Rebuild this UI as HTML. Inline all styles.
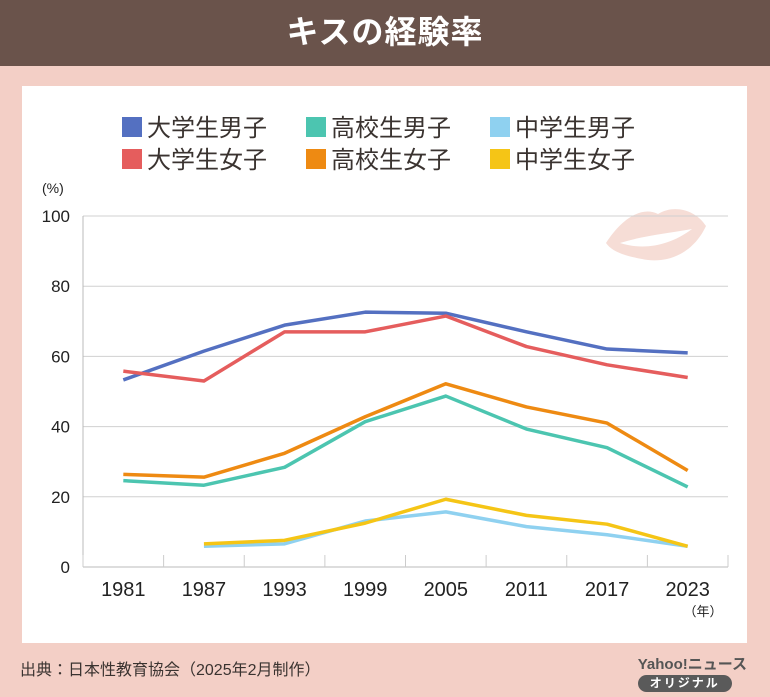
<!DOCTYPE html>
<html><head><meta charset="utf-8"><style>
body{margin:0;width:770px;height:697px;background:#f3cfc6;font-family:"Liberation Sans","Noto Sans CJK JP",sans-serif;position:relative;overflow:hidden}
#hdr{position:absolute;left:0;top:0;width:770px;height:66px;background:#6a534b;color:#fff;font-size:32px;font-weight:bold;text-align:center;line-height:64px;letter-spacing:1px}
#panel{position:absolute;left:22px;top:86px;width:725px;height:557px;background:#fff}
#src{position:absolute;left:20px;top:656px;font-size:16px;color:#3a3330}
#yl{position:absolute;right:23px;top:653px;text-align:center}
#yl .a{font-size:15px;font-weight:bold;color:#555}
#yl .b{margin-top:1px;background:#5a5a5a;color:#fff;font-size:12px;font-weight:bold;border-radius:9px;width:94px;height:17px;line-height:17px;letter-spacing:2px}
</style></head><body>
<div id="hdr">キスの経験率</div>
<div id="panel"></div>
<svg id="chart" width="770" height="697" style="position:absolute;left:0;top:0"></svg>
<div id="src">出典：日本性教育協会（2025年2月制作）</div>
<div id="yl"><div class="a">Yahoo!ニュース</div><div class="b">オリジナル</div></div>
<script>
const categories=["1981","1987","1993","1999","2005","2011","2017","2023"];
const yTicks=[0,20,40,60,80,100];
const univMale=[53.3,61.5,68.9,72.6,72.3,67,62.1,61];
const univFemale=[55.8,53,67,67,71.5,62.8,57.6,54];
const highMale=[24.6,23.3,28.4,41.4,48.7,39.3,34,22.8];
const highFemale=[26.4,25.6,32.4,42.8,52.2,45.6,41,27.5];
const juniorMale=[null,5.9,6.6,13.1,15.7,11.5,9.2,5.9];
const juniorFemale=[null,6.6,7.6,12.5,19.3,14.7,12.2,5.9];
const seriesNames=["大学生男子","高校生男子","中学生男子","大学生女子","高校生女子","中学生女子"];
const seriesColors=["#5470c1","#4cc5b0","#8fd1f0","#e55d5d","#ee8a12","#f5c516"];
const seriesData=[univMale,highMale,juniorMale,univFemale,highFemale,juniorFemale];
const NS="http://www.w3.org/2000/svg";
const svg=document.getElementById('chart');
const L=83,R=728,T=216,B=567;
const x=i=>L+(R-L)/categories.length*(i+0.5);
const y=v=>B-(B-T)*v/100;
function mk(t,a){const e=document.createElementNS(NS,t);for(const k in a)e.setAttribute(k,a[k]);svg.appendChild(e);return e;}
const lips=mk('path',{d:'M606 243 C622 218 642 206 658 214 C674 204 696 210 706 226 C692 256 664 264 642 259 C626 256 612 252 606 243 Z M620 243 C642 236 664 234 692 229 C668 247 642 250 620 243 Z',fill:'#f6ddd6','fill-rule':'evenodd'});


yTicks.forEach(v=>{
 const g=mk('line',{x1:L,x2:R,y1:y(v),y2:y(v),stroke:v===0?'#bbb':'#d0d0d0','stroke-width':1});
 
 
 const t=mk('text',{x:70,y:y(v)+6,'text-anchor':'end','font-size':17,fill:'#222'});t.textContent=v;
 
 
});
const ax=mk('line',{x1:L,x2:L,y1:T,y2:B,stroke:'#bbb'});


for(let i=0;i<=categories.length;i++){
 const xx=L+(R-L)/categories.length*i;
 const tk=mk('line',{x1:xx,x2:xx,y1:B-12,y2:B,stroke:'#ccc'});
 
 
}
categories.forEach((c,i)=>{
 const t=mk('text',{x:x(i),y:596,'text-anchor':'middle','font-size':20,fill:'#222'});t.textContent=c;
 
 
});
const yu=mk('text',{x:42,y:193,'font-size':14,fill:'#222'});yu.textContent='(%)';


const xu=mk('text',{x:703,y:616,'text-anchor':'middle','font-size':13,fill:'#222'});xu.textContent='（年）';


seriesData.forEach((d,s)=>{
 const pts=[];d.forEach((v,i)=>{if(v!==null)pts.push(x(i)+','+y(v));});
 const p=mk('polyline',{points:pts.join(' '),fill:'none',stroke:seriesColors[s],'stroke-width':3.5,'stroke-linejoin':'round'});
 
 
});
const legX=[122,306,490];
seriesNames.forEach((n,s)=>{
 const cx=legX[s%3],cy=s<3?127:159;
 const r=mk('rect',{x:cx,y:cy-10,width:20,height:20,fill:seriesColors[s]});
 
 
 const t=mk('text',{x:cx+25,y:cy+9,'font-size':24,fill:'#3a3330'});t.textContent=n;
 
 
});
</script>
</body></html>
